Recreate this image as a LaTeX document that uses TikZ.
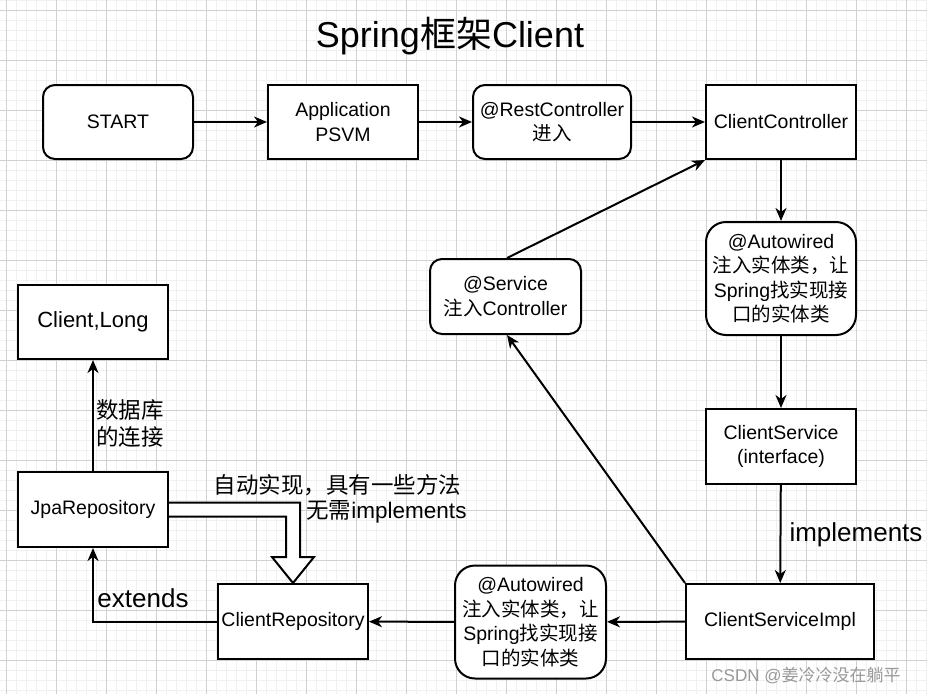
\documentclass[tikz,border=0pt]{standalone}
\usepackage{fontspec}
\setmainfont{Liberation Sans}
\newfontfamily\cjk{Noto Sans CJK SC}
\newcommand\zh[1]{{\cjk #1}}
\usetikzlibrary{arrows.meta,calc}
\begin{document}
\begin{tikzpicture}[x=1pt,y=-1pt,
  base/.style={draw, line width=2pt, align=center, inner sep=0pt, fill=white,
    font=\fontsize{19.5}{24.5}\selectfont},
  sq/.style={base},
  rnd/.style={base, rounded corners=12pt},
  rndl/.style={base, rounded corners=20pt},
  arr/.style={line width=2pt, -{Stealth[length=13pt,width=11pt,inset=4pt]}},
  lbl/.style={inner sep=0pt, align=center, font=\fontsize{22.5}{27}\selectfont},
  big/.style={inner sep=0pt, font=\fontsize{26}{30}\selectfont},
  minorline/.style={line width=0.6pt, black!6},
  majorline/.style={line width=0.8pt, black!18}
]
\useasboundingbox (0,0) rectangle (927,694);
\fill[white] (0,0) rectangle (927,694);
% grid
\foreach \k in {0,...,92} {\draw[minorline] (6.7+10*\k,0) -- (6.7+10*\k,694);}
\foreach \k in {0,...,69} {\draw[minorline] (0,0.7+10*\k) -- (927,0.7+10*\k);}
\foreach \k in {0,...,18} {\draw[majorline] (6.7+50*\k,0) -- (6.7+50*\k,694);}
\foreach \k in {0,...,13} {\draw[majorline] (0,10.7+50*\k) -- (927,10.7+50*\k);}

% title
\node[inner sep=0pt, font=\fontsize{36}{40}\selectfont] (title) at (450,36) {Spring\zh{框架}Client};

% nodes
\node[rnd, minimum width=150pt, minimum height=74pt] (start) at (118,122) {START};
\node[sq, minimum width=150pt, minimum height=74pt] (app) at (343,122) {Application\\PSVM};
\node[rnd, minimum width=158pt, minimum height=74pt] (rest) at (552,122) {@RestController\\\zh{进入}};
\node[sq, minimum width=150pt, minimum height=74pt] (cc) at (781,122) {ClientController};
\node[rndl, minimum width=150pt, minimum height=113pt] (aw1) at (781,278.5) {@Autowired\\\zh{注入实体类，让}\\Spring\zh{找实现接}\\\zh{口的实体类}};
\node[sq, minimum width=150pt, minimum height=75pt] (cs) at (781,446.5) {ClientService\\(interface)};
\node[sq, minimum width=188pt, minimum height=75pt] (csi) at (780,621.5) {ClientServiceImpl};
\node[rndl, minimum width=151pt, minimum height=113pt] (aw2) at (530.5,622) {@Autowired\\\zh{注入实体类，让}\\Spring\zh{找实现接}\\\zh{口的实体类}};
\node[sq, minimum width=150pt, minimum height=75pt] (crep) at (293,621.5) {ClientRepository};
\node[sq, minimum width=150pt, minimum height=75pt] (jpa) at (93,509.5) {JpaRepository};
\node[sq, minimum width=150pt, minimum height=74pt, font=\fontsize{22}{26}\selectfont] (cl) at (93,322) {Client,Long};
\node[rnd, minimum width=151pt, minimum height=75pt] (svc) at (505.5,296.5) {@Service\\\zh{注入}Controller};

% labels
\node[lbl, align=left, anchor=west] (dblbl) at (96,423) {\zh{数据库}\\\zh{的连接}};
\node[big] (extlbl) at (143,598) {extends};
\node[big] (implbl) at (856,535) {implements};
\node[lbl] (auto1) at (337.5,485) {\zh{自动实现，具有一些方法}};
\node[lbl] (auto2) at (386.5,512) {\zh{无需}implements};
\node[inner sep=0pt, text=black!40, font=\fontsize{17}{20}\selectfont] (wm) at (806,675) {CSDN @\zh{姜冷冷没在躺平}};

% connectors
\draw[arr] (start) -- (app);
\draw[arr] (app) -- (rest);
\draw[arr] (rest) -- (cc);
\draw[arr] (cc) -- (aw1);
\draw[arr] (aw1) -- (cs);
\draw[arr] (cs) -- (csi);
\draw[arr] (csi) -- (aw2);
\draw[arr] (aw2) -- (crep);
\draw[arr] (crep.west) -| (jpa.south);
\draw[arr] (jpa) -- (cl);
\draw[arr] ([xshift=1.5pt]svc.north) -- (cc.south west);
\draw[arr] (csi.north west) -- ([xshift=1.5pt]svc.south);

% hollow arrow
\coordinate (ha) at ($(jpa.east)+(0,-7)$);
\coordinate (hb) at ($(jpa.east)+(0,7)$);
\coordinate (hr) at ($(crep.north)+(7,-26)$);
\coordinate (hl) at ($(crep.north)+(-7,-26)$);
\coordinate (hR) at ($(crep.north)+(21,-26)$);
\coordinate (hL) at ($(crep.north)+(-21,-26)$);
\draw[line width=2pt, fill=white, line join=miter]
  (ha) -- (hr |- ha) -- (hr) -- (hR) -- (crep.north) -- (hL) -- (hl)
  -- (hl |- hb) -- (hb);
\end{tikzpicture}
\end{document}
